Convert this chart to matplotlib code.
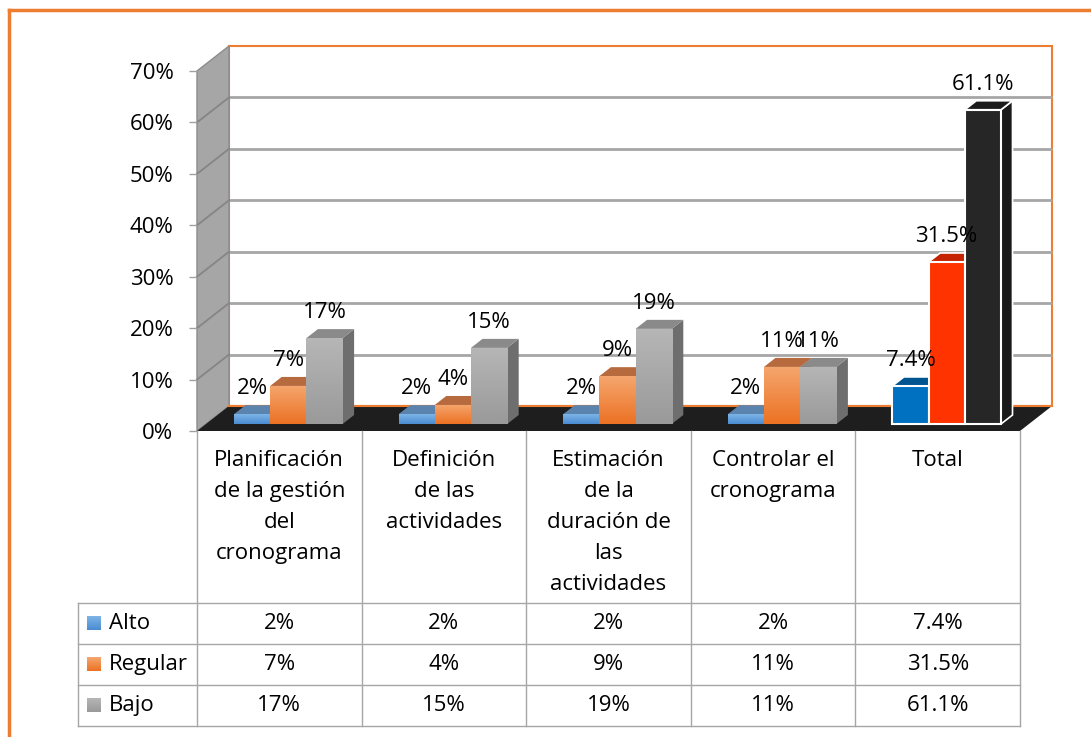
import numpy as np
import matplotlib
matplotlib.use("Agg")
import matplotlib.pyplot as plt
from matplotlib.patches import Polygon, Rectangle
from matplotlib.lines import Line2D
from matplotlib.colors import LinearSegmentedColormap

# ---------------- data ----------------
categories = ["Planificación\nde la gestión\ndel\ncronograma",
              "Definición\nde las\nactividades",
              "Estimación\nde la\nduración de\nlas\nactividades",
              "Controlar el\ncronograma",
              "Total"]
series_names = ["Alto", "Regular", "Bajo"]
alto = [1.9, 1.9, 1.9, 1.9, 7.4]
regular = [7.4, 3.7, 9.3, 11.1, 31.5]
bajo = [16.7, 14.8, 18.5, 11.1, 61.1]
alto_labels = ["2%", "2%", "2%", "2%", "7.4%"]
regular_labels = ["7%", "4%", "9%", "11%", "31.5%"]
bajo_labels = ["17%", "15%", "19%", "11%", "61.1%"]
y_ticks = [0, 10, 20, 30, 40, 50, 60, 70]

series_values = [alto, regular, bajo]
series_labels = [alto_labels, regular_labels, bajo_labels]

# ---------------- style ----------------
plt.rcParams['font.family'] = ['Open Sans', 'DejaVu Sans']
FS = 16
W, H = 1091, 737
fig = plt.figure(figsize=(W / 100, H / 100), dpi=100)
fig.patch.set_facecolor('white')

def fx(p):
    return p / W

def fy(p):
    return 1 - p / H

# styles: (front top, front bottom, top face, side face)
normal_styles = [("#7db4e6", "#4a8cd2", "#5a83ad", "#3d6d9c"),
                 ("#f5a66e", "#ec7224", "#b86a3f", "#b35a1f"),
                 ("#b6b6b6", "#9a9a9a", "#8a8a8a", "#6e6e6e")]
total_styles = [("#0070c0", "#0070c0", "#00548f", "#004f86"),
                ("#ff3300", "#ff3300", "#c42200", "#b82000"),
                ("#262626", "#262626", "#1c1c1c", "#1a1a1a")]
key_colors = [("#7db4e6", "#4a8cd2"), ("#f5a66e", "#ec7224"), ("#b6b6b6", "#9a9a9a")]

# ---------------- main axes (front plane) ----------------
x_left_px, x_right_px, y0_px, y70_px = 197, 1020, 431, 71
ax = fig.add_axes([fx(x_left_px), fy(y0_px), (x_right_px - x_left_px) / W, (y0_px - y70_px) / H])
n = len(categories)
ax.set_xlim(-0.5, n - 0.5)
ax.set_ylim(0, 70)
ax.patch.set_visible(False)
for s in ax.spines.values():
    s.set_visible(False)
ax.set_xticks([])
ax.set_yticks(y_ticks)
ax.set_yticklabels([f"{t}%" for t in y_ticks])
ax.tick_params(axis='y', length=6, width=1, color='#a0a0a0', pad=11, labelsize=FS)

ux = (x_right_px - x_left_px) / n          # px per category
uy = (y0_px - y70_px) / 70.0               # px per percent
DX = 32 / ux
DY = 25 / uy
d0, d1 = 0.28, 0.64
w = 0.22

xl, xr = -0.5, n - 0.5
# back wall
ax.add_patch(Rectangle((xl + DX, DY), n, 70, facecolor='white', edgecolor='#ed7d31',
                       lw=1.5, clip_on=False, zorder=1))
for t in y_ticks[1:-1]:
    ax.plot([xl + DX, xr + DX], [t + DY, t + DY], color='#a6a6a6', lw=2,
            clip_on=False, zorder=1.2, solid_capstyle='butt')
# side wall
ax.add_patch(Polygon([(xl, 0), (xl, 70), (xl + DX, 70 + DY), (xl + DX, DY)],
                     closed=True, facecolor='#a6a6a6', edgecolor='#8c8c8c', lw=1,
                     clip_on=False, zorder=1.3))
for t in y_ticks[1:-1]:
    ax.plot([xl, xl + DX], [t, t + DY], color='#858585', lw=1.3, clip_on=False, zorder=1.4)
# floor
ax.add_patch(Polygon([(xl, 0), (xr, 0), (xr + DX, DY), (xl + DX, DY)], closed=True,
                     facecolor='#1e1e1e', edgecolor='none', clip_on=False, zorder=2))
ax.plot([xl + DX, xr + DX], [DY, DY], color='#ed7d31', lw=1.5, clip_on=False, zorder=2.05)

# bars
z = 3.0
offsets = [-w, 0.0, w]
for i in range(n):
    is_total = (i == n - 1)
    styles = total_styles if is_total else normal_styles
    edge = 'white' if is_total else 'none'
    for k in range(3):
        v = series_values[k][i]
        ctop, cbot, ctopface, cside = styles[k]
        xc = i + offsets[k]
        x0 = xc - w / 2 + d0 * DX
        x1 = xc + w / 2 + d0 * DX
        yb = d0 * DY
        sx, sy = (d1 - d0) * DX, (d1 - d0) * DY
        # side face
        ax.add_patch(Polygon([(x1, yb), (x1, yb + v), (x1 + sx, yb + v + sy), (x1 + sx, yb + sy)],
                             closed=True, facecolor=cside, edgecolor=edge, lw=1.2,
                             clip_on=False, zorder=z))
        # top face
        ax.add_patch(Polygon([(x0, yb + v), (x1, yb + v), (x1 + sx, yb + v + sy), (x0 + sx, yb + v + sy)],
                             closed=True, facecolor=ctopface, edgecolor=edge, lw=1.2,
                             clip_on=False, zorder=z + 0.01))
        # front face (library bar) with vertical gradient
        bar = ax.bar(xc + d0 * DX, v, width=w, bottom=yb, color=cbot, edgecolor=edge,
                     lw=1.5 if is_total else 0, zorder=z + 0.02, clip_on=False)[0]
        if ctop != cbot:
            cmap = LinearSegmentedColormap.from_list("g", [cbot, ctop])
            im = ax.imshow(np.linspace(0, 1, 64).reshape(-1, 1), extent=(x0, x1, yb, yb + v),
                           origin='lower', aspect='auto', cmap=cmap, zorder=z + 0.03,
                           interpolation='bilinear')
            im.set_clip_path(bar)
        z += 0.1
        # label
        ax.text(xc + d0 * DX, v + d1 * DY + 2.1, series_labels[k][i], ha='center',
                va='baseline', fontsize=FS, color='black', zorder=20, clip_on=False)

ax.set_xlim(-0.5, n - 0.5)
ax.set_ylim(0, 70)

# ---------------- data table ----------------
tab_left_px, tab_bottom_px = 78, 726
row_h = 41
tax = fig.add_axes([fx(tab_left_px), fy(tab_bottom_px), (x_right_px - tab_left_px) / W,
                    (tab_bottom_px - y0_px) / H])
txl = -0.5 - (x_left_px - tab_left_px) / ux
ytop = (tab_bottom_px - y0_px) / row_h
tax.set_xlim(txl, n - 0.5)
tax.set_ylim(0, ytop)
tax.axis('off')
lc = '#a6a6a6'
for yy in [0, 1, 2, 3]:
    tax.plot([txl, n - 0.5], [yy, yy], color=lc, lw=1, clip_on=False)
tax.plot([txl, txl], [0, 3], color=lc, lw=1, clip_on=False)
for j in range(n + 1):
    tax.plot([j - 0.5, j - 0.5], [0, ytop], color=lc, lw=1, clip_on=False)

for i, cat in enumerate(categories):
    tax.text(i, ytop - 19 / row_h, cat, ha='center', va='top', fontsize=FS,
             linespacing=1.63)

for k, name in enumerate(series_names):
    yc = 2.5 - k
    kx = txl + 9 / ux
    ks = 14
    cmap = LinearSegmentedColormap.from_list("k", [key_colors[k][1], key_colors[k][0]])
    tax.imshow(np.linspace(0, 1, 32).reshape(-1, 1),
               extent=(kx, kx + ks / ux, yc - ks / 2 / row_h, yc + ks / 2 / row_h),
               origin='lower', aspect='auto', cmap=cmap, zorder=3)
    tax.text(txl + 31 / ux, yc, name, ha='left', va='center', fontsize=FS)
    for i in range(n):
        tax.text(i, yc, series_labels[k][i], ha='center', va='center', fontsize=FS)
tax.set_xlim(txl, n - 0.5)
tax.set_ylim(0, ytop)

# ---------------- outer border ----------------
fig.add_artist(Line2D([fx(9), fx(9)], [fy(10), 0], transform=fig.transFigure,
                      color='#ed7d31', lw=2.5))
fig.add_artist(Line2D([fx(9), 1], [fy(10), fy(10)], transform=fig.transFigure,
                      color='#ed7d31', lw=2.5))

fig.savefig("out.png", dpi=100, facecolor='white')
